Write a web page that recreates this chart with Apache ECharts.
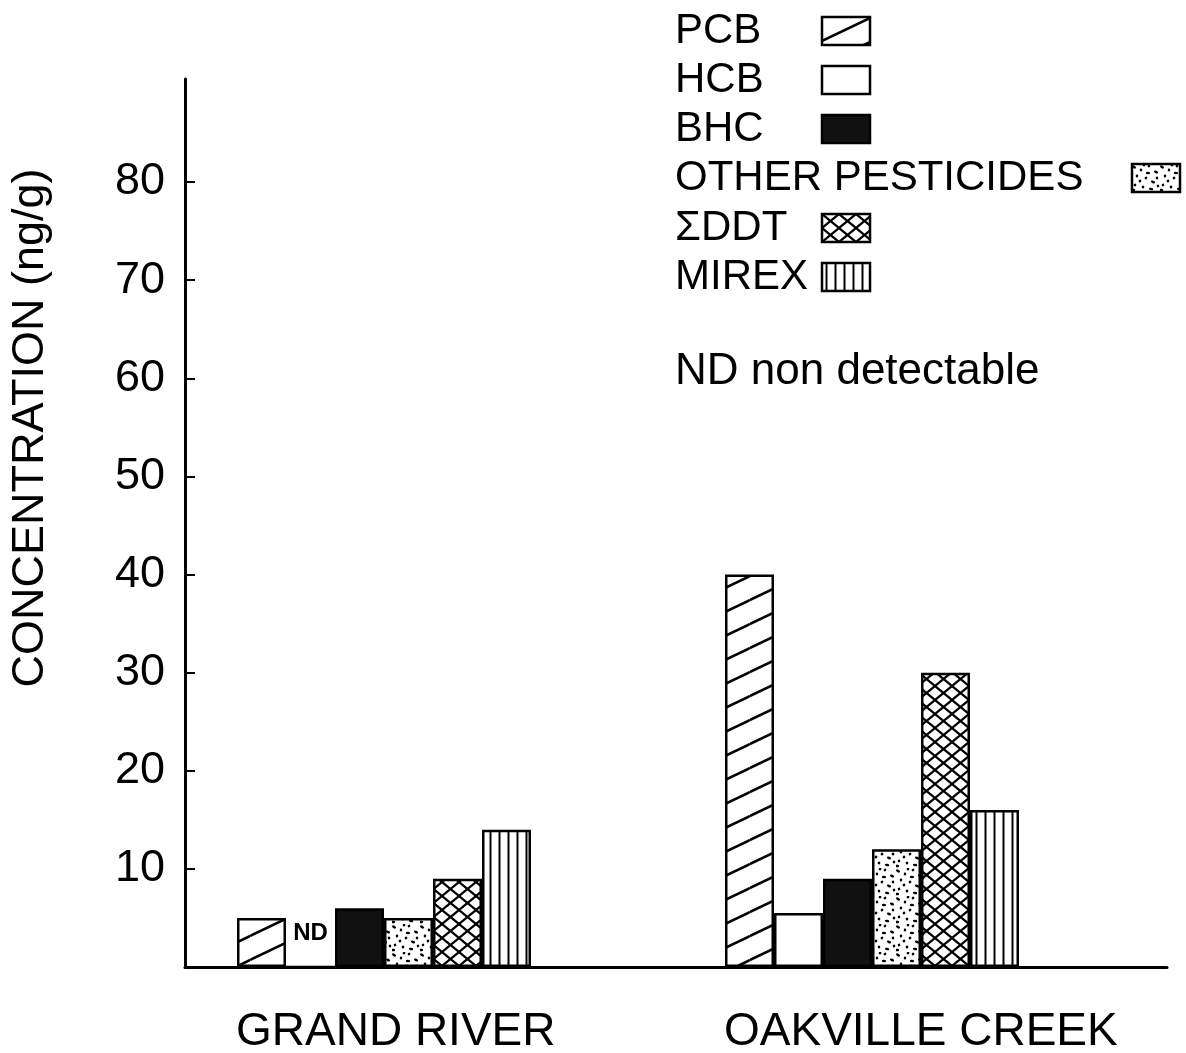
<!DOCTYPE html>
<html>
<head>
<meta charset="utf-8">
<title>Organochlorine concentrations</title>
<script src="https://cdn.jsdelivr.net/npm/echarts@6.0.0/dist/echarts.min.js"></script>
<style>
  html, body { margin: 0; padding: 0; background: #fff; }
  #chart { width: 1186px; height: 1053px; }
</style>
</head>
<body>
<div id="chart"></div>
<script>
// values (ng/g); HCB at Grand River is non detectable
const sites = ['GRAND RIVER', 'OAKVILLE CREEK']
const pcb = [5, 40]
const hcb = [0, 5.5]
const hcbNote = ['ND', '']
const bhc = [6, 9]
const otherPesticides = [5, 12]
const ddt = [9, 30]
const mirex = [14, 16]
const yTicks = [10, 20, 30, 40, 50, 60, 70, 80]

const font = 'Liberation Sans'

// small canvas tiles used as hatch fills
function makeTile(w, h, draw) {
  const c = document.createElement('canvas')
  c.width = w
  c.height = h
  const ctx = c.getContext('2d')
  ctx.fillStyle = '#fff'
  ctx.fillRect(0, 0, w, h)
  ctx.strokeStyle = '#000'
  ctx.fillStyle = '#000'
  draw(ctx, w, h)
  return { image: c, repeat: 'repeat' }
}
function line(ctx, x1, y1, x2, y2) {
  ctx.beginPath()
  ctx.moveTo(x1, y1)
  ctx.lineTo(x2, y2)
  ctx.stroke()
}

const diagonalFill = makeTile(50, 24, (ctx, w, h) => {
  ctx.lineWidth = 2.5
  for (const dy of [-h, 0, h]) line(ctx, 0, h + dy, w, dy)
})
const crossFill = makeTile(17, 14, (ctx, w, h) => {
  ctx.lineWidth = 2.2
  for (const dx of [-w, 0, w]) {
    line(ctx, dx, 0, dx + w, h)
    line(ctx, dx, h, dx + w, 0)
  }
})
const verticalFill = makeTile(9, 4, (ctx, w, h) => {
  ctx.lineWidth = 2
  line(ctx, 4.5, 0, 4.5, h)
})
const stippleFill = makeTile(28, 28, (ctx) => {
  const dots = [[2, 3], [9, 6], [17, 2], [24, 8], [5, 12], [14, 14], [21, 18], [3, 21],
    [11, 23], [19, 25], [26, 22], [8, 17], [16, 9], [25, 14], [12, 1], [1, 26]]
  dots.forEach(([x, y], i) => {
    ctx.beginPath()
    ctx.ellipse(x, y, i % 3 === 0 ? 2.2 : 1.4, 1.3, 0.6 + i, 0, Math.PI * 2)
    ctx.fill()
  })
})

function barSeries(name, data, fill) {
  return {
    name: name,
    type: 'bar',
    xAxisIndex: 1,
    yAxisIndex: 1,
    data: data,
    barWidth: 49,
    barGap: '0%',
    itemStyle: { color: fill, borderColor: '#000', borderWidth: 2.5 }
  }
}

function legendBlock(names, top, textWidth) {
  return {
    data: names,
    orient: 'vertical',
    align: 'right',
    left: 675,
    top: top,
    padding: 0,
    itemGap: 7,
    itemWidth: 48,
    itemHeight: 28,
    icon: 'rect',
    selectedMode: false,
    itemStyle: { borderColor: '#000', borderWidth: 2.5 },
    formatter: (name) => '{t|' + name + '}',
    textStyle: {
      fontFamily: font,
      fontSize: 42,
      color: '#000',
      rich: {
        t: { width: textWidth, align: 'left', fontFamily: font, fontSize: 42, lineHeight: 42, color: '#000' }
      }
    }
  }
}

const chart = echarts.init(document.getElementById('chart'))
chart.setOption({
  animation: false,
  backgroundColor: '#fff',
  title: {
    text: 'ND non detectable',
    left: 675,
    top: 350,
    padding: 0,
    textStyle: { fontFamily: font, fontSize: 44, fontWeight: 'normal', color: '#000' }
  },
  legend: [
    legendBlock(['PCB', 'HCB', 'BHC'], 10, 142),
    legendBlock(['OTHER PESTICIDES'], 157, 452),
    legendBlock(['ΣDDT', 'MIREX'], 207, 142)
  ],
  grid: [
    // frame with the drawn axes
    { left: 185, right: 19, top: 79, bottom: 86, outerBoundsMode: 'none' },
    // bars: category bands centred on the two groups
    { left: 140, width: 976, top: 79, bottom: 86, outerBoundsMode: 'none' }
  ],
  xAxis: [
    {
      gridIndex: 0,
      type: 'value',
      min: 0,
      max: 1,
      axisLine: { show: true, lineStyle: { color: '#000', width: 3 } },
      axisTick: { show: false },
      axisLabel: { show: false },
      splitLine: { show: false }
    },
    {
      gridIndex: 1,
      type: 'category',
      data: sites,
      axisLine: { show: false },
      axisTick: { show: false },
      axisLabel: {
        interval: 0,
        hideOverlap: false,
        margin: 42,
        formatter: (v) => '{s|' + v + '}',
        rich: {
          s: { width: 296, align: 'left', fontFamily: font, fontSize: 46, color: '#000' }
        }
      }
    }
  ],
  yAxis: [
    {
      gridIndex: 0,
      type: 'value',
      min: 0,
      max: 90.5,
      name: 'CONCENTRATION (ng/g)',
      nameLocation: 'middle',
      nameGap: 132,
      nameTextStyle: { fontFamily: font, fontSize: 45, color: '#000', padding: [0, 0, 0, 190] },
      axisLine: { show: true, lineStyle: { color: '#000', width: 3 } },
      axisTick: { show: true, inside: true, length: 10, customValues: yTicks, lineStyle: { color: '#000', width: 2 } },
      axisLabel: { customValues: yTicks, fontFamily: font, fontSize: 45, color: '#000', margin: 20 },
      splitLine: { show: false }
    },
    {
      gridIndex: 1,
      type: 'value',
      min: 0,
      max: 90.5,
      show: false,
      splitLine: { show: false }
    }
  ],
  series: [
    barSeries('PCB', pcb, diagonalFill),
    Object.assign(barSeries('HCB', hcb, '#fff'), {
      label: {
        show: true,
        position: 'top',
        distance: 20,
        formatter: (p) => hcbNote[p.dataIndex],
        fontFamily: font,
        fontSize: 24,
        fontWeight: 'bold',
        color: '#000'
      }
    }),
    barSeries('BHC', bhc, '#111'),
    barSeries('OTHER PESTICIDES', otherPesticides, stippleFill),
    barSeries('ΣDDT', ddt, crossFill),
    barSeries('MIREX', mirex, verticalFill)
  ]
})
</script>
</body>
</html>
